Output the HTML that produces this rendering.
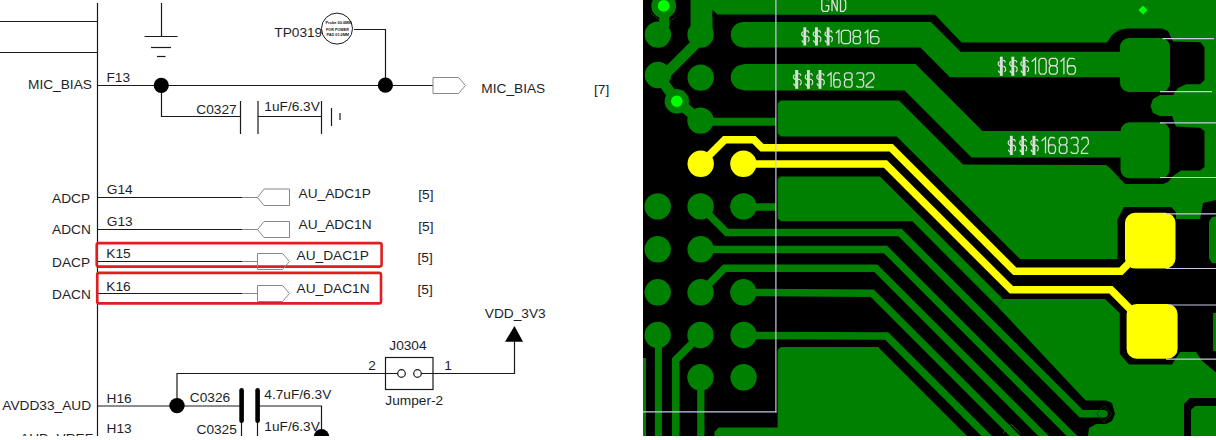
<!DOCTYPE html>
<html><head><meta charset="utf-8">
<style>
html,body{margin:0;padding:0;background:#fff;width:1216px;height:440px;overflow:hidden}
svg{position:absolute;left:0;top:0;display:block}
text{font-family:"Liberation Sans",sans-serif;font-size:13.7px;fill:#1e1e28}
</style></head><body>
<svg id="sch" width="1216" height="440" viewBox="0 0 1216 440">
<rect x="0" y="0" width="643" height="440" fill="#fff"/>
<g stroke="#1a1a1a" stroke-width="1.2" fill="none">
  <!-- bus -->
  <line x1="97.5" y1="3" x2="97.5" y2="436"/>
  <line x1="0" y1="21.5" x2="97.5" y2="21.5"/>
  <line x1="0" y1="52.5" x2="97.5" y2="52.5"/>
  <!-- ground -->
  <line x1="161.5" y1="3" x2="161.5" y2="36.5"/>
  <line x1="144.5" y1="36.5" x2="177.5" y2="36.5"/>
  <line x1="151" y1="47.5" x2="171" y2="47.5"/>
  <line x1="157" y1="56.5" x2="165.5" y2="56.5"/>
  <!-- mic bias -->
  <line x1="97.5" y1="85.5" x2="433" y2="85.5"/>
  <polyline points="161.5,85.5 161.5,116.5 240.5,116.5"/>
  <line x1="240.5" y1="101" x2="240.5" y2="134"/>
  <line x1="258" y1="101" x2="258" y2="134"/>
  <line x1="258" y1="116.5" x2="321.5" y2="116.5"/>
  <line x1="321.5" y1="101" x2="321.5" y2="134"/>
  <line x1="331.5" y1="108" x2="331.5" y2="126"/>
  <line x1="340" y1="113" x2="340" y2="120"/>
  <polyline points="354,29.5 385.5,29.5 385.5,85.5"/>
  <circle cx="337" cy="28.6" r="15.5" stroke-width="1"/>
  <!-- adc/dac rows -->
  <line x1="97.5" y1="197.5" x2="242" y2="197.5"/>
  <line x1="97.5" y1="229.5" x2="242" y2="229.5"/>
  <line x1="97.5" y1="261.5" x2="242" y2="261.5"/>
  <line x1="97.5" y1="293.5" x2="242" y2="293.5"/>
  <!-- avdd -->
  <line x1="97.5" y1="406" x2="241.5" y2="406"/>
  <polyline points="177,406 177,373.5 398,373.5"/>
  <polyline points="421,373.5 514.5,373.5 514.5,340"/>
  <polyline points="257.5,406 321.5,406 321.5,436"/>
  <line x1="241.5" y1="420" x2="241.5" y2="436"/>
  <line x1="257.5" y1="420" x2="257.5" y2="436"/>
  <rect x="385.5" y="357.5" width="47.5" height="32"/>
  <circle cx="401.5" cy="373.5" r="3.8"/>
  <circle cx="417.5" cy="373.5" r="3.8"/>
</g>
<!-- red boxes -->
<g stroke="#e01e1e" stroke-width="2.6" fill="none">
  <rect x="96.7" y="243.1" width="284.9" height="23.5" rx="2"/>
  <rect x="97.2" y="272.9" width="283.8" height="30.5" rx="2"/>
</g>
<g stroke="#888" stroke-width="1" fill="none">
  <line x1="242" y1="197.5" x2="257.5" y2="197.5"/>
  <line x1="242" y1="229.5" x2="257.5" y2="229.5"/>
  <line x1="242" y1="261.5" x2="257.5" y2="261.5"/>
  <line x1="242" y1="293.5" x2="257.5" y2="293.5"/>
  <polygon points="433,77.5 458.5,77.5 465.5,85.5 458.5,93.5 433,93.5"/>
  <polygon points="257.5,197.5 264,189 289.5,189 289.5,205.5 264,205.5"/>
  <polygon points="257.5,229.5 264,221.5 289.5,221.5 289.5,237.5 264,237.5"/>
  <polygon points="257.5,253.5 282.5,253.5 289.5,261.5 282.5,269.5 257.5,269.5"/>
  <polygon points="257.5,285.5 282.5,285.5 289.5,293.5 282.5,301.5 257.5,301.5"/>
</g>
<g fill="#000">
  <circle cx="161.3" cy="85.3" r="7.6"/>
  <circle cx="385.4" cy="85.2" r="7.6"/>
  <circle cx="177" cy="405.6" r="7.7"/>
  <circle cx="321.5" cy="436.5" r="7.6"/>
  <rect x="239.3" y="388" width="4.6" height="35" rx="2.3"/>
  <rect x="255.3" y="388" width="4.6" height="35" rx="2.3"/>
  <polygon points="514.5,326 505,341.8 523,341.8"/>
</g>
<g>
  <text x="28" y="89.3">MIC_BIAS</text>
  <text x="106.5" y="81.8">F13</text>
  <text x="196.3" y="114.1">C0327</text>
  <text x="264.3" y="110.7">1uF/6.3V</text>
  <text x="274.3" y="36.9">TP0319</text>
  <text x="481.3" y="92.9">MIC_BIAS</text>
  <text x="594" y="93.5">[7]</text>
  <text x="52" y="202.8">ADCP</text>
  <text x="106.8" y="193.8">G14</text>
  <text x="52" y="233.8">ADCN</text>
  <text x="106.8" y="226.2">G13</text>
  <text x="52" y="266.5">DACP</text>
  <text x="106.3" y="257.7">K15</text>
  <text x="52" y="298.9">DACN</text>
  <text x="106.3" y="291.2">K16</text>
  <text x="298.5" y="198.1">AU_ADC1P</text>
  <text x="298.5" y="229.2">AU_ADC1N</text>
  <text x="296.5" y="259.9">AU_DAC1P</text>
  <text x="296.5" y="292.5">AU_DAC1N</text>
  <text x="418.3" y="198.5">[5]</text>
  <text x="418.3" y="230.5">[5]</text>
  <text x="417.5" y="262">[5]</text>
  <text x="417.5" y="294">[5]</text>
  <text x="2.3" y="410.3">AVDD33_AUD</text>
  <text x="20" y="443">AUD_VREF</text>
  <text x="106.5" y="402.6">H16</text>
  <text x="106.5" y="433.3">H13</text>
  <text x="189.8" y="402.4">C0326</text>
  <text x="264.3" y="399.1">4.7uF/6.3V</text>
  <text x="196.5" y="433.6">C0325</text>
  <text x="264.3" y="430.9">1uF/6.3V</text>
  <text x="484.8" y="318.3">VDD_3V3</text>
  <text x="389.3" y="350">J0304</text>
  <text x="368.3" y="370.4">2</text>
  <text x="444.3" y="370.4">1</text>
  <text x="385.3" y="405">Jumper-2</text>
</g>
<g style="font-size:4.2px;font-weight:bold" >
  <text x="325.5" y="24.3" textLength="26" lengthAdjust="spacingAndGlyphs" style="font-size:4.2px;fill:#111">Probe 00.0MM</text>
  <text x="326" y="30.6" textLength="23" lengthAdjust="spacingAndGlyphs" style="font-size:4.2px;fill:#111">FOR POWER</text>
  <text x="326.5" y="36.4" textLength="22.5" lengthAdjust="spacingAndGlyphs" style="font-size:4.2px;fill:#111">PAD 01.0MM</text>
</g>
<!-- white strip bottom -->
<rect x="0" y="436" width="1216" height="4" fill="#fff"/>
</svg>

<svg id="pcb" width="1216" height="440" viewBox="0 0 1216 440" style="left:0;top:0">
<rect x="643" y="0" width="573" height="436" rx="0" fill="#000"/>
<rect x="776" y="0" width="440" height="436" rx="0" fill="#008000"/>
<polygon points="776,14.8 935,14.8 961.5,42.5 1107,42.5 1112,35 1119,30 1127,28.5 1162,28.5 1168,31 1173,41.5 1200.5,42.3 1204.5,47.5 1204.5,80 1200,84.2 1186,84.2 1178,88 1173,95 1160,95 1153,99 1150.5,106 1153,113 1160,116 1172,116 1176,126.5 1200,127.8 1204.5,131 1204.5,167 1200,170.5 1181,170.5 1173,176 1168,182 1163,184 1125,184 1110,168 1106,165 963,164.5 899,100.5 776,100.5" fill="#000"/>
<polygon points="776,136.4 896.7,136.4 1020,259 1117.5,259 1117.5,219.6 1124,207 1171,207 1176,212 1176,219 1200,219 1203,203 1216,200 1216,372.5 1201,360 1196,352 1180,352 1172,364.4 1129,364.4 1119.8,354 1119.8,313.2 1105,299 1003,299 997,306 1085.6,400.4 1106,400.4 1112,403 1115,413.7 1112,421 1106,423.9 1096,423.9 1089,428 1088,436 967,436 878,347 776,347" fill="#000"/>
<polygon points="1184,436 1184,404 1190,398 1216,398 1216,436" fill="#000"/>
<polygon points="776,176.4 880,176.4 1003,299 997,306 912.3,221.3 776,221.3" fill="#008000"/>
<polygon points="1212,217 1216,216.4 1216,263 1212,263 1209,258 1209,222" fill="#008000"/>
<polygon points="1213,313 1216,313 1216,351 1213,351" fill="#008000"/>
<polygon points="1178.6,360 1183,352 1196,352 1201,360" fill="#008000"/>
<polygon points="1191,436 1191,410 1195,406 1216,406 1216,436" fill="#008000"/>
<rect x="776" y="100" width="1.6" height="37" rx="0" fill="#000"/>
<rect x="776" y="176" width="1.6" height="46" rx="0" fill="#000"/>
<rect x="776" y="346" width="1.6" height="90" rx="0" fill="#000"/>
<path d="M777.5,100.5 L782.5,100.5 A5 5 0 0 0 777.5,105.5 Z" fill="#000"/>
<path d="M777.5,136.4 L782.5,136.4 A5 5 0 0 1 777.5,131.4 Z" fill="#000"/>
<path d="M777.5,176.4 L782.5,176.4 A5 5 0 0 0 777.5,181.4 Z" fill="#000"/>
<path d="M777.5,221.3 L782.5,221.3 A5 5 0 0 1 777.5,216.3 Z" fill="#000"/>
<path d="M777.5,347 L782.5,347 A5 5 0 0 0 777.5,352 Z" fill="#000"/>
<polygon points="690.6,0 776.5,0 776.5,14.6 712.5,14.6 712.5,35 690.6,35" fill="#008000"/>
<rect x="643" y="358" width="3" height="78" rx="0" fill="#008000"/>
<polygon points="714.5,436 714.5,432 718.5,427.6 778,427.6 778,436" fill="#008000"/>
<polyline points="704,35.5 664,75.5" fill="none" stroke="#008000" stroke-width="10.3" stroke-linecap="butt" stroke-linejoin="miter" stroke-miterlimit="6"/>
<polyline points="657.9,75 676.8,101.3 700.5,120.6" fill="none" stroke="#008000" stroke-width="10.5" stroke-linecap="butt" stroke-linejoin="miter" stroke-miterlimit="6"/>
<polyline points="663.7,5.9 664.5,27" fill="none" stroke="#008000" stroke-width="10" stroke-linecap="butt" stroke-linejoin="miter" stroke-miterlimit="6"/>
<polyline points="700.5,121.7 776,121.7" fill="none" stroke="#008000" stroke-width="7.9" stroke-linecap="butt" stroke-linejoin="miter" stroke-miterlimit="6"/>
<polyline points="743.4,206.9 776,206.9" fill="none" stroke="#008000" stroke-width="7.5" stroke-linecap="butt" stroke-linejoin="miter" stroke-miterlimit="6"/>
<polyline points="700.6,206.4 726.8,232.6 900.1,232.6 1081.2,413.7 1104,413.7" fill="none" stroke="#008000" stroke-width="7.5" stroke-linecap="butt" stroke-linejoin="miter" stroke-miterlimit="6"/>
<circle cx="1104" cy="413.7" r="3.75" fill="#008000"/>
<polyline points="700.6,249.5 885.6,249.6 1080,444" fill="none" stroke="#008000" stroke-width="7.5" stroke-linecap="butt" stroke-linejoin="miter" stroke-miterlimit="6"/>
<polyline points="700.6,292.3 724.6,268.3 875.8,268.2 1051.6,444" fill="none" stroke="#008000" stroke-width="7.5" stroke-linecap="butt" stroke-linejoin="miter" stroke-miterlimit="6"/>
<polyline points="743.4,292.5 872.2,293.2 1023,444" fill="none" stroke="#008000" stroke-width="7.5" stroke-linecap="butt" stroke-linejoin="miter" stroke-miterlimit="6"/>
<polyline points="743.6,335.5 886.7,336 994.7,444" fill="none" stroke="#008000" stroke-width="7.5" stroke-linecap="butt" stroke-linejoin="miter" stroke-miterlimit="6"/>
<polyline points="658.4,335 658.4,440" fill="none" stroke="#008000" stroke-width="7" stroke-linecap="butt" stroke-linejoin="miter" stroke-miterlimit="6"/>
<polyline points="700.5,335 675.7,359.8 675.7,440" fill="none" stroke="#008000" stroke-width="7.5" stroke-linecap="butt" stroke-linejoin="miter" stroke-miterlimit="6"/>
<polyline points="700.8,377.3 700.8,440" fill="none" stroke="#008000" stroke-width="7.3" stroke-linecap="butt" stroke-linejoin="miter" stroke-miterlimit="6"/>
<polyline points="743.5,34.75 925.7,34.75 955.3,64.4 1145,64.4" fill="none" stroke="#008000" stroke-width="25.5" stroke-linecap="butt" stroke-linejoin="miter" stroke-miterlimit="6"/>
<circle cx="743.5" cy="34.75" r="12.75" fill="#008000"/>
<polyline points="743.5,77.25 910,77.25 977,144.3 1145,144.3" fill="none" stroke="#008000" stroke-width="26.5" stroke-linecap="butt" stroke-linejoin="miter" stroke-miterlimit="6"/>
<circle cx="743.5" cy="77.25" r="12.75" fill="#008000"/>
<circle cx="657.9" cy="34.6" r="13.2" fill="#008000"/>
<circle cx="700.6" cy="34.6" r="13.2" fill="#008000"/>
<circle cx="657.9" cy="75" r="13.2" fill="#008000"/>
<circle cx="700.7" cy="77.6" r="13.2" fill="#008000"/>
<circle cx="700.5" cy="120.6" r="13.2" fill="#008000"/>
<circle cx="657.7" cy="206.4" r="13.2" fill="#008000"/>
<circle cx="700.6" cy="206.4" r="13.2" fill="#008000"/>
<circle cx="743.4" cy="206.4" r="13.2" fill="#008000"/>
<circle cx="657.7" cy="249.3" r="13.2" fill="#008000"/>
<circle cx="700.6" cy="249.3" r="13.2" fill="#008000"/>
<circle cx="657.7" cy="292.3" r="13.2" fill="#008000"/>
<circle cx="700.6" cy="292.3" r="13.2" fill="#008000"/>
<circle cx="743.4" cy="292.3" r="13.2" fill="#008000"/>
<circle cx="657.7" cy="335" r="13.2" fill="#008000"/>
<circle cx="700.5" cy="335" r="13.2" fill="#008000"/>
<circle cx="743.6" cy="335" r="13.2" fill="#008000"/>
<circle cx="700.5" cy="377.3" r="13.2" fill="#008000"/>
<circle cx="743.6" cy="377.3" r="13.2" fill="#008000"/>
<circle cx="663.7" cy="5.9" r="12.4" fill="#008000"/>
<circle cx="663.7" cy="5.9" r="5.9" fill="#00ff00"/>
<circle cx="676.8" cy="101.3" r="12.2" fill="#008000"/>
<circle cx="676.8" cy="101.3" r="5.75" fill="#00ff00"/>
<polygon points="1143,5.5 1147.5,10 1143,14.5 1138.5,10" fill="#00ff00"/>
<rect x="1120" y="38" width="50" height="54" rx="9" fill="#008000"/>
<polyline points="651.5,13.6 660.7,21.5" fill="none" stroke="#2a6a2a" stroke-width="0.9" stroke-dasharray="1.2 0.8"/>
<polyline points="675.7,17 669.6,22" fill="none" stroke="#2a6a2a" stroke-width="0.9" stroke-dasharray="1.2 0.8"/>
<polygon points="712.3,10 717.3,14 712.3,17.5" fill="#000"/>
<polyline points="1104,405.5 1112,413.7 1104,422 1096.5,413.7 1104,405.5" fill="none" stroke="#003c00" stroke-width="1"/>
<polyline points="1003,433 1011.7,424.6 1020.3,433" fill="none" stroke="#1a6a1a" stroke-width="1"/>
<rect x="1120.5" y="122.3" width="49" height="56" rx="9" fill="#008000"/>
<polyline points="700.7,163.8 724.7,139.8 754,139.8 762,147.8 891.2,147.7 1014.7,271.2 1121,271.2 1150,242" fill="none" stroke="#ffff00" stroke-width="7.6" stroke-linecap="butt" stroke-linejoin="miter" stroke-miterlimit="6"/>
<polyline points="743.4,164 885.5,164 1011.3,289.8 1111,289.8 1152,331" fill="none" stroke="#ffff00" stroke-width="7.6" stroke-linecap="butt" stroke-linejoin="miter" stroke-miterlimit="6"/>
<circle cx="700.7" cy="163.8" r="13.2" fill="#ffff00"/>
<circle cx="743.4" cy="163.8" r="13.2" fill="#ffff00"/>
<rect x="1125" y="212.7" width="50.5" height="55.8" rx="10" fill="#ffff00"/>
<rect x="1126.6" y="304.1" width="51" height="54.6" rx="10" fill="#ffff00"/>
<polyline points="828.7,0.3 827.32,-1.2 823.18,-1.2 821.8,0.68 821.8,9.43 823.18,11.3 827.32,11.3 828.7,9.43 828.7,5.68 825.6,5.68" fill="none" stroke="#dcdcdc" stroke-width="1.3" stroke-linejoin="miter"/>
<polyline points="832,11.3 832,-1.2 837.2,11.3 837.2,-1.2" fill="none" stroke="#dcdcdc" stroke-width="1.3" stroke-linejoin="miter"/>
<polyline points="840.5,-1.2 843.62,-1.2 845.7,1.3 845.7,8.8 843.62,11.3 840.5,11.3 840.5,-1.2" fill="none" stroke="#dcdcdc" stroke-width="1.3" stroke-linejoin="miter"/>
<polyline points="808.9,32.76 807.83,30.94 806.06,30.94" fill="none" stroke="#dcdcdc" stroke-width="1.2" stroke-linejoin="miter"/>
<polyline points="802.87,31.67 801.8,33.12 801.8,34.94 803.22,36.4 807.48,36.4 808.9,37.86 808.9,40.4 807.83,41.86" fill="none" stroke="#dcdcdc" stroke-width="1.2" stroke-linejoin="miter"/>
<polyline points="804.64,42.22 802.87,42.22 801.8,40.4" fill="none" stroke="#dcdcdc" stroke-width="1.2" stroke-linejoin="miter"/>
<rect x="803.362" y="27.3" width="2.84" height="18.2" fill="#dcdcdc"/>
<polyline points="820.8,32.76 819.67,30.94 817.8,30.94" fill="none" stroke="#dcdcdc" stroke-width="1.2" stroke-linejoin="miter"/>
<polyline points="814.42,31.67 813.3,33.12 813.3,34.94 814.8,36.4 819.3,36.4 820.8,37.86 820.8,40.4 819.67,41.86" fill="none" stroke="#dcdcdc" stroke-width="1.2" stroke-linejoin="miter"/>
<polyline points="816.3,42.22 814.42,42.22 813.3,40.4" fill="none" stroke="#dcdcdc" stroke-width="1.2" stroke-linejoin="miter"/>
<rect x="814.95" y="27.3" width="3" height="18.2" fill="#dcdcdc"/>
<polyline points="832.3,32.76 831.22,30.94 829.42,30.94" fill="none" stroke="#dcdcdc" stroke-width="1.2" stroke-linejoin="miter"/>
<polyline points="826.18,31.67 825.1,33.12 825.1,34.94 826.54,36.4 830.86,36.4 832.3,37.86 832.3,40.4 831.22,41.86" fill="none" stroke="#dcdcdc" stroke-width="1.2" stroke-linejoin="miter"/>
<polyline points="827.98,42.22 826.18,42.22 825.1,40.4" fill="none" stroke="#dcdcdc" stroke-width="1.2" stroke-linejoin="miter"/>
<rect x="826.684" y="27.3" width="2.88" height="18.2" fill="#dcdcdc"/>
<polyline points="835.8,33.25 838.9,30.3 838.9,43.7" fill="none" stroke="#dcdcdc" stroke-width="1.3" stroke-linejoin="miter"/>
<polyline points="843.38,30.3 848.42,30.3 850.4,32.18 850.4,41.82 848.42,43.7 843.38,43.7 841.4,41.82 841.4,32.18 843.38,30.3" fill="none" stroke="#dcdcdc" stroke-width="1.3" stroke-linejoin="miter"/>
<polyline points="854.64,30.3 858.96,30.3 860.4,31.91 860.4,35.12 858.96,36.6 854.64,36.6 853.2,35.12 853.2,31.91 854.64,30.3" fill="none" stroke="#dcdcdc" stroke-width="1.3" stroke-linejoin="miter"/>
<polyline points="854.64,36.6 853.2,38.34 853.2,42.09 854.64,43.7 858.96,43.7 860.4,42.09 860.4,38.34 858.96,36.6" fill="none" stroke="#dcdcdc" stroke-width="1.3" stroke-linejoin="miter"/>
<polyline points="864.7,33.25 867.8,30.3 867.8,43.7" fill="none" stroke="#dcdcdc" stroke-width="1.3" stroke-linejoin="miter"/>
<polyline points="878.49,31.1 876.41,30.3 872.67,30.3 870.6,32.98 870.6,41.69 872.26,43.7 877.24,43.7 878.9,41.69 878.9,38.34 877.24,36.6 872.26,36.6 870.6,38.34" fill="none" stroke="#dcdcdc" stroke-width="1.3" stroke-linejoin="miter"/>
<polyline points="801.1,75.64 799.96,73.76 798.06,73.76" fill="none" stroke="#dcdcdc" stroke-width="1.2" stroke-linejoin="miter"/>
<polyline points="794.64,74.51 793.5,76.02 793.5,77.9 795.02,79.4 799.58,79.4 801.1,80.9 801.1,83.54 799.96,85.04" fill="none" stroke="#dcdcdc" stroke-width="1.2" stroke-linejoin="miter"/>
<polyline points="796.54,85.42 794.64,85.42 793.5,83.54" fill="none" stroke="#dcdcdc" stroke-width="1.2" stroke-linejoin="miter"/>
<rect x="795.172" y="70" width="3.04" height="18.8" fill="#dcdcdc"/>
<polyline points="812.6,75.64 811.52,73.76 809.72,73.76" fill="none" stroke="#dcdcdc" stroke-width="1.2" stroke-linejoin="miter"/>
<polyline points="806.48,74.51 805.4,76.02 805.4,77.9 806.84,79.4 811.16,79.4 812.6,80.9 812.6,83.54 811.52,85.04" fill="none" stroke="#dcdcdc" stroke-width="1.2" stroke-linejoin="miter"/>
<polyline points="808.28,85.42 806.48,85.42 805.4,83.54" fill="none" stroke="#dcdcdc" stroke-width="1.2" stroke-linejoin="miter"/>
<rect x="806.984" y="70" width="2.88" height="18.8" fill="#dcdcdc"/>
<polyline points="824.2,75.64 823.11,73.76 821.28,73.76" fill="none" stroke="#dcdcdc" stroke-width="1.2" stroke-linejoin="miter"/>
<polyline points="818,74.51 816.9,76.02 816.9,77.9 818.36,79.4 822.74,79.4 824.2,80.9 824.2,83.54 823.11,85.04" fill="none" stroke="#dcdcdc" stroke-width="1.2" stroke-linejoin="miter"/>
<polyline points="819.82,85.42 818,85.42 816.9,83.54" fill="none" stroke="#dcdcdc" stroke-width="1.2" stroke-linejoin="miter"/>
<rect x="818.506" y="70" width="2.92" height="18.8" fill="#dcdcdc"/>
<polyline points="827.2,76.02 831.1,72.9 831.1,87.1" fill="none" stroke="#dcdcdc" stroke-width="1.3" stroke-linejoin="miter"/>
<polyline points="839.88,73.75 838.28,72.9 835.4,72.9 833.8,75.74 833.8,84.97 835.08,87.1 838.92,87.1 840.2,84.97 840.2,81.42 838.92,79.57 835.08,79.57 833.8,81.42" fill="none" stroke="#dcdcdc" stroke-width="1.3" stroke-linejoin="miter"/>
<polyline points="846.02,72.9 850.58,72.9 852.1,74.6 852.1,78.01 850.58,79.57 846.02,79.57 844.5,78.01 844.5,74.6 846.02,72.9" fill="none" stroke="#dcdcdc" stroke-width="1.3" stroke-linejoin="miter"/>
<polyline points="846.02,79.57 844.5,81.42 844.5,85.4 846.02,87.1 850.58,87.1 852.1,85.4 852.1,81.42 850.58,79.57" fill="none" stroke="#dcdcdc" stroke-width="1.3" stroke-linejoin="miter"/>
<polyline points="856.4,74.32 857.84,72.9 862.16,72.9 863.6,74.6 863.6,77.87 862.16,79.57 858.92,79.57" fill="none" stroke="#dcdcdc" stroke-width="1.3" stroke-linejoin="miter"/>
<polyline points="862.16,79.57 863.6,81.42 863.6,85.4 862.16,87.1 857.84,87.1 856.4,85.68" fill="none" stroke="#dcdcdc" stroke-width="1.3" stroke-linejoin="miter"/>
<polyline points="866.3,75.03 867.82,72.9 872.38,72.9 873.9,75.03 873.9,78.58 866.3,85.4 866.3,87.1 873.9,87.1" fill="none" stroke="#dcdcdc" stroke-width="1.3" stroke-linejoin="miter"/>
<polyline points="1005.5,62.43 1004.42,60.52 1002.62,60.52" fill="none" stroke="#dcdcdc" stroke-width="1.2" stroke-linejoin="miter"/>
<polyline points="999.38,61.28 998.3,62.81 998.3,64.72 999.74,66.25 1004.06,66.25 1005.5,67.78 1005.5,70.45 1004.42,71.98" fill="none" stroke="#dcdcdc" stroke-width="1.2" stroke-linejoin="miter"/>
<polyline points="1001.18,72.36 999.38,72.36 998.3,70.45" fill="none" stroke="#dcdcdc" stroke-width="1.2" stroke-linejoin="miter"/>
<rect x="999.884" y="56.7" width="2.88" height="19.1" fill="#dcdcdc"/>
<polyline points="1017,62.43 1015.92,60.52 1014.12,60.52" fill="none" stroke="#dcdcdc" stroke-width="1.2" stroke-linejoin="miter"/>
<polyline points="1010.88,61.28 1009.8,62.81 1009.8,64.72 1011.24,66.25 1015.56,66.25 1017,67.78 1017,70.45 1015.92,71.98" fill="none" stroke="#dcdcdc" stroke-width="1.2" stroke-linejoin="miter"/>
<polyline points="1012.68,72.36 1010.88,72.36 1009.8,70.45" fill="none" stroke="#dcdcdc" stroke-width="1.2" stroke-linejoin="miter"/>
<rect x="1011.38" y="56.7" width="2.88" height="19.1" fill="#dcdcdc"/>
<polyline points="1028.5,62.43 1027.36,60.52 1025.46,60.52" fill="none" stroke="#dcdcdc" stroke-width="1.2" stroke-linejoin="miter"/>
<polyline points="1022.04,61.28 1020.9,62.81 1020.9,64.72 1022.42,66.25 1026.98,66.25 1028.5,67.78 1028.5,70.45 1027.36,71.98" fill="none" stroke="#dcdcdc" stroke-width="1.2" stroke-linejoin="miter"/>
<polyline points="1023.94,72.36 1022.04,72.36 1020.9,70.45" fill="none" stroke="#dcdcdc" stroke-width="1.2" stroke-linejoin="miter"/>
<rect x="1022.57" y="56.7" width="3.04" height="19.1" fill="#dcdcdc"/>
<polyline points="1031.6,61.8 1035.5,58.3 1035.5,74.2" fill="none" stroke="#dcdcdc" stroke-width="1.3" stroke-linejoin="miter"/>
<polyline points="1040.58,58.3 1044.62,58.3 1046.2,60.53 1046.2,71.97 1044.62,74.2 1040.58,74.2 1039,71.97 1039,60.53 1040.58,58.3" fill="none" stroke="#dcdcdc" stroke-width="1.3" stroke-linejoin="miter"/>
<polyline points="1050.9,58.3 1055.7,58.3 1057.3,60.21 1057.3,64.02 1055.7,65.77 1050.9,65.77 1049.3,64.02 1049.3,60.21 1050.9,58.3" fill="none" stroke="#dcdcdc" stroke-width="1.3" stroke-linejoin="miter"/>
<polyline points="1050.9,65.77 1049.3,67.84 1049.3,72.29 1050.9,74.2 1055.7,74.2 1057.3,72.29 1057.3,67.84 1055.7,65.77" fill="none" stroke="#dcdcdc" stroke-width="1.3" stroke-linejoin="miter"/>
<polyline points="1060.4,61.8 1063.9,58.3 1063.9,74.2" fill="none" stroke="#dcdcdc" stroke-width="1.3" stroke-linejoin="miter"/>
<polyline points="1075,59.25 1073,58.3 1069.4,58.3 1067.4,61.48 1067.4,71.81 1069,74.2 1073.8,74.2 1075.4,71.81 1075.4,67.84 1073.8,65.77 1069,65.77 1067.4,67.84" fill="none" stroke="#dcdcdc" stroke-width="1.3" stroke-linejoin="miter"/>
<polyline points="1015.5,141.56 1014.42,139.64 1012.62,139.64" fill="none" stroke="#dcdcdc" stroke-width="1.2" stroke-linejoin="miter"/>
<polyline points="1009.38,140.41 1008.3,141.94 1008.3,143.86 1009.74,145.4 1014.06,145.4 1015.5,146.94 1015.5,149.62 1014.42,151.16" fill="none" stroke="#dcdcdc" stroke-width="1.2" stroke-linejoin="miter"/>
<polyline points="1011.18,151.54 1009.38,151.54 1008.3,149.62" fill="none" stroke="#dcdcdc" stroke-width="1.2" stroke-linejoin="miter"/>
<rect x="1009.88" y="135.8" width="2.88" height="19.2" fill="#dcdcdc"/>
<polyline points="1026.6,141.56 1025.58,139.64 1023.88,139.64" fill="none" stroke="#dcdcdc" stroke-width="1.2" stroke-linejoin="miter"/>
<polyline points="1020.82,140.41 1019.8,141.94 1019.8,143.86 1021.16,145.4 1025.24,145.4 1026.6,146.94 1026.6,149.62 1025.58,151.16" fill="none" stroke="#dcdcdc" stroke-width="1.2" stroke-linejoin="miter"/>
<polyline points="1022.52,151.54 1020.82,151.54 1019.8,149.62" fill="none" stroke="#dcdcdc" stroke-width="1.2" stroke-linejoin="miter"/>
<rect x="1021.3" y="135.8" width="2.72" height="19.2" fill="#dcdcdc"/>
<polyline points="1038.2,141.56 1037.11,139.64 1035.28,139.64" fill="none" stroke="#dcdcdc" stroke-width="1.2" stroke-linejoin="miter"/>
<polyline points="1032,140.41 1030.9,141.94 1030.9,143.86 1032.36,145.4 1036.74,145.4 1038.2,146.94 1038.2,149.62 1037.11,151.16" fill="none" stroke="#dcdcdc" stroke-width="1.2" stroke-linejoin="miter"/>
<polyline points="1033.82,151.54 1032,151.54 1030.9,149.62" fill="none" stroke="#dcdcdc" stroke-width="1.2" stroke-linejoin="miter"/>
<rect x="1032.51" y="135.8" width="2.92" height="19.2" fill="#dcdcdc"/>
<polyline points="1041.5,140.98 1045.5,137.5 1045.5,153.3" fill="none" stroke="#dcdcdc" stroke-width="1.3" stroke-linejoin="miter"/>
<polyline points="1055.15,138.45 1053.4,137.5 1050.25,137.5 1048.5,140.66 1048.5,150.93 1049.9,153.3 1054.1,153.3 1055.5,150.93 1055.5,146.98 1054.1,144.93 1049.9,144.93 1048.5,146.98" fill="none" stroke="#dcdcdc" stroke-width="1.3" stroke-linejoin="miter"/>
<polyline points="1060.82,137.5 1065.38,137.5 1066.9,139.4 1066.9,143.19 1065.38,144.93 1060.82,144.93 1059.3,143.19 1059.3,139.4 1060.82,137.5" fill="none" stroke="#dcdcdc" stroke-width="1.3" stroke-linejoin="miter"/>
<polyline points="1060.82,144.93 1059.3,146.98 1059.3,151.4 1060.82,153.3 1065.38,153.3 1066.9,151.4 1066.9,146.98 1065.38,144.93" fill="none" stroke="#dcdcdc" stroke-width="1.3" stroke-linejoin="miter"/>
<polyline points="1070.8,139.08 1072.24,137.5 1076.56,137.5 1078,139.4 1078,143.03 1076.56,144.93 1073.32,144.93" fill="none" stroke="#dcdcdc" stroke-width="1.3" stroke-linejoin="miter"/>
<polyline points="1076.56,144.93 1078,146.98 1078,151.4 1076.56,153.3 1072.24,153.3 1070.8,151.72" fill="none" stroke="#dcdcdc" stroke-width="1.3" stroke-linejoin="miter"/>
<polyline points="1081.5,139.87 1082.86,137.5 1086.94,137.5 1088.3,139.87 1088.3,143.82 1081.5,151.4 1081.5,153.3 1088.3,153.3" fill="none" stroke="#dcdcdc" stroke-width="1.3" stroke-linejoin="miter"/>
<line x1="775.9" y1="0" x2="775.9" y2="412.4" stroke="#c8c8e8" stroke-width="1.2"/>
<line x1="643" y1="411.8" x2="776.5" y2="411.8" stroke="#c8c8e8" stroke-width="1.2"/>
<line x1="1162.5" y1="38.7" x2="1214" y2="38.7" stroke="#c8c8e8" stroke-width="1.2"/>
<line x1="1160" y1="91.6" x2="1212" y2="91.6" stroke="#c8c8e8" stroke-width="1.2"/>
<line x1="1160" y1="122.9" x2="1216" y2="122.9" stroke="#c8c8e8" stroke-width="1.2"/>
<line x1="1160" y1="177.5" x2="1216" y2="177.5" stroke="#c8c8e8" stroke-width="1.2"/>
<line x1="1166" y1="213.8" x2="1216" y2="213.8" stroke="#c8c8e8" stroke-width="1.2"/>
<line x1="1166" y1="268.5" x2="1216" y2="268.5" stroke="#c8c8e8" stroke-width="1.2"/>
<line x1="1168" y1="305" x2="1216" y2="305" stroke="#c8c8e8" stroke-width="1.2"/>
<line x1="1166" y1="359.2" x2="1216" y2="359.2" stroke="#c8c8e8" stroke-width="1.2"/>
<rect x="0" y="436" width="1216" height="4" rx="0" fill="#fff"/>
</svg>
</body></html>
